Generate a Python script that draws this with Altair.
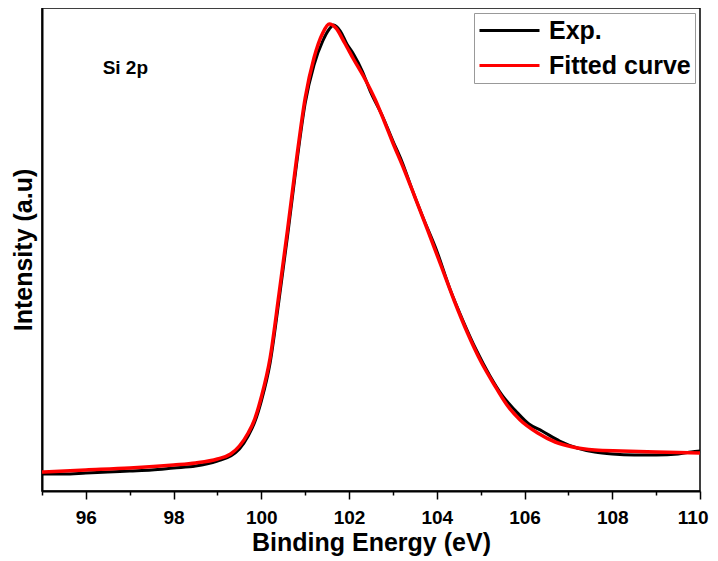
import altair as alt
import pandas as pd

energy_exp = [95.0, 95.5, 96.0, 96.5, 97.0, 97.5, 98.0, 98.5, 99.0, 99.3, 99.5, 99.7, 99.85,
              100.0, 100.2, 100.4, 100.6, 100.8, 101.0, 101.2, 101.4, 101.55, 101.65, 101.8,
              101.95, 102.1, 102.3, 102.5, 102.75, 103.0, 103.2, 103.45, 103.7, 104.0, 104.3,
              104.6, 104.9, 105.2, 105.5, 105.8, 106.1, 106.4, 106.8, 107.2, 107.6, 108.0,
              108.5, 109.0, 109.5, 109.8, 110.0]
intensity_exp = [17, 17, 18, 19, 20, 21, 23, 25, 30, 35, 42, 55, 69,
                 90, 128, 190, 256, 326, 388, 426, 450, 462, 466, 460,
                 447, 437, 420, 398, 376, 350, 330, 300, 272, 240, 202,
                 170, 141, 116, 95, 80, 67, 60, 50, 43, 39, 37,
                 36, 36, 37, 39, 40]

# Fitted curve
energy_fit = [95.0, 96.0, 97.0, 98.0, 98.5, 99.0, 99.3, 99.5, 99.7, 99.85, 100.0, 100.2,
              100.4, 100.6, 100.8, 101.0, 101.2, 101.4, 101.55, 101.7, 101.9, 102.1, 102.35,
              102.6, 102.8, 103.0, 103.25, 103.5, 103.8, 104.1, 104.4, 104.7, 105.0, 105.3,
              105.6, 105.9, 106.3, 106.7, 107.1, 107.6, 108.2, 109.0, 110.0]
intensity_fit = [19, 21, 23, 26, 28, 32, 37, 45, 58, 72, 94, 133,
                 196, 262, 331, 393, 433, 458, 467, 463, 448, 432, 413,
                 391, 370, 348, 322, 294, 260, 225, 190, 158, 130, 107,
                 86, 71, 58, 49, 44, 41, 40, 39, 38]

series_names = ["Exp.", "Fitted curve"]
series_colors = ["black", "red"]

x_ticks = list(range(95, 111))

annot_text = ["Si 2p"]
annot_x = [96.9]
annot_y = [423]

df_exp = pd.DataFrame({"E": energy_exp, "I": intensity_exp, "series": series_names[0]})
df_fit = pd.DataFrame({"E": energy_fit, "I": intensity_fit, "series": series_names[1]})
df_ann = pd.DataFrame({"E": annot_x, "I": annot_y, "t": annot_text})

x_enc = alt.X("E:Q", scale=alt.Scale(domain=[95, 110], nice=False, zero=False),
              axis=alt.Axis(title="Binding Energy (eV)", values=x_ticks,
                            labelExpr="datum.value % 2 === 0 ? datum.label : ''",
                            labelFlush=True, labelFlushOffset=8, labelOverlap=False,
                            tickSize={"condition": {"test": "datum.value % 2 === 0", "value": 8}, "value": 4},
                            labelPadding=9, titlePadding=3, grid=False))
y_enc = alt.Y("I:Q", scale=alt.Scale(domain=[0, 483], nice=False),
              axis=alt.Axis(title="Intensity (a.u)", labels=False, ticks=False, grid=False,
                            titlePadding=6))
color_enc = alt.Color("series:N", scale=alt.Scale(domain=series_names, range=series_colors),
                      legend=alt.Legend(title=None, orient="top-right",
                                        symbolType="M-2.5,0H2.5", symbolSize=576,
                                        symbolStrokeWidth=3, symbolOffset=18,
                                        labelFontSize=25, labelFont="Liberation Sans",
                                        labelFontWeight="bold", labelColor="black",
                                        labelOffset=26, strokeColor="#999999",
                                        fillColor="white", padding=4, offset=5,
                                        rowPadding=8))

exp_line = alt.Chart(df_exp).mark_line(strokeWidth=3, interpolate="monotone").encode(
    x=x_enc, y=y_enc, color=color_enc)
fit_line = alt.Chart(df_fit).mark_line(strokeWidth=3.5, interpolate="monotone").encode(
    x=x_enc, y=y_enc, color=color_enc)
ann = alt.Chart(df_ann).mark_text(font="Liberation Sans", fontWeight="bold", fontSize=19,
                                  align="center", color="black").encode(
    x="E:Q", y="I:Q", text="t:N")

chart = alt.layer(exp_line, fit_line, ann).properties(
    width=658, height=483,
    autosize=alt.AutoSizeParams(type="none"),
    padding={"left": 34, "top": 0, "right": 10, "bottom": 70},
).configure_view(stroke="black", strokeWidth=1.5).configure_axis(
    domainColor="black", domainWidth=2, tickColor="black", tickWidth=1.5,
    labelFont="Liberation Sans", labelFontWeight="bold", labelFontSize=19, labelColor="black",
    titleFont="Liberation Sans", titleFontWeight="bold", titleFontSize=25, titleColor="black",
)

chart.save("out.html", embed_options={"renderer": "svg", "actions": False})
